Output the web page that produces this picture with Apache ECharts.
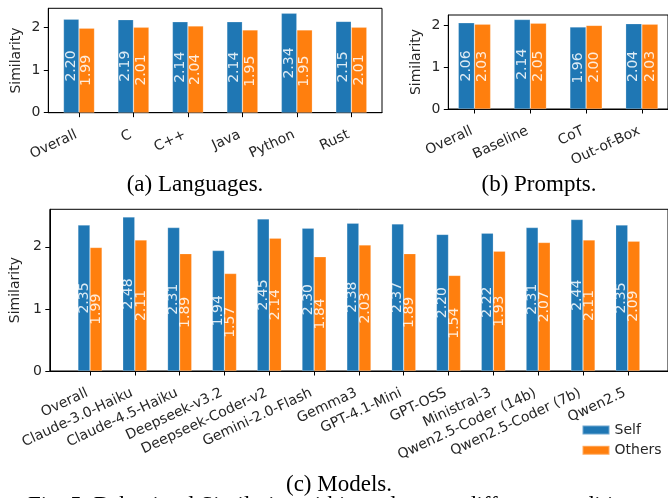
<!DOCTYPE html>
<html>
<head>
<meta charset="utf-8">
<script src="https://cdn.jsdelivr.net/npm/echarts@6/dist/echarts.min.js"></script>
<style>
html,body{margin:0;padding:0;background:#fff;}
#chart{width:668px;height:498px;}
</style>
</head>
<body>
<div id="chart"></div>
<script>
// ---- data ----
const langCats = ['Overall', 'C', 'C++', 'Java', 'Python', 'Rust'];
const langSelf = [2.20, 2.19, 2.14, 2.14, 2.34, 2.15];
const langOthers = [1.99, 2.01, 2.04, 1.95, 1.95, 2.01];

const promptCats = ['Overall', 'Baseline', 'CoT', 'Out-of-Box'];
const promptSelf = [2.06, 2.14, 1.96, 2.04];
const promptOthers = [2.03, 2.05, 2.00, 2.03];

const modelCats = ['Overall', 'Claude-3.0-Haiku', 'Claude-4.5-Haiku', 'Deepseek-v3.2',
  'Deepseek-Coder-v2', 'Gemini-2.0-Flash', 'Gemma3', 'GPT-4.1-Mini', 'GPT-OSS',
  'Ministral-3', 'Qwen2.5-Coder (14b)', 'Qwen2.5-Coder (7b)', 'Qwen2.5'];
const modelSelf = [2.35, 2.48, 2.31, 1.94, 2.45, 2.30, 2.38, 2.37, 2.20, 2.22, 2.31, 2.44, 2.35];
const modelOthers = [1.99, 2.11, 1.89, 1.57, 2.14, 1.84, 2.03, 1.89, 1.54, 1.93, 2.07, 2.11, 2.09];

const yTicks = [0, 1, 2];
const seriesNames = ['Self', 'Others'];
const captions = ['(a) Languages.', '(b) Prompts.', '(c) Models.'];
const figCaption = 'Fig. 5: Behavioral Similarity within and across different conditions.';

// ---- styling ----
const BLUE = '#1f77b4', ORANGE = '#ff7f0e';
const TXT = '#262626';
const FONT = 'DejaVu Sans';
const SERIF = 'Liberation Serif';
const FS = 14;

const panels = [
  { cats: langCats, self: langSelf, others: langOthers, w: 0.285,
    grid: { left: 48.3, top: 8.3, width: 333.7, height: 104.4 } },
  { cats: promptCats, self: promptSelf, others: promptOthers, w: 0.29,
    grid: { left: 448.3, top: 15, width: 222.4, height: 94 } },
  { cats: modelCats, self: modelSelf, others: modelOthers, w: 0.27,
    grid: { left: 48.3, top: 209.3, width: 622.5, height: 161.7 } }
];

const grids = [], xAxes = [], yAxes = [], series = [];
panels.forEach((p, k) => {
  const n = p.cats.length;
  const margin = p.w + 0.05 * (n - 1 + 2 * p.w);
  const ymax = Math.max(...p.self, ...p.others) * 1.05;
  const idx = p.cats.map((_, i) => i);
  grids.push(Object.assign({ show: true, borderColor: '#000', borderWidth: 1, containLabel: false }, p.grid));
  xAxes.push({
    type: 'value', gridIndex: k, min: -margin, max: n - 1 + margin,
    axisLine: { show: true, onZero: false, lineStyle: { color: '#000', width: 1 } },
    axisTick: { show: true, customValues: idx, length: 4.5, lineStyle: { color: '#000', width: 1 } },
    axisLabel: { show: true, customValues: idx, rotate: 25, margin: 20, fontSize: FS,
      padding: [0, 3, 0, 0],
      fontFamily: FONT, color: TXT, formatter: v => p.cats[Math.round(v)] },
    splitLine: { show: false }
  });
  yAxes.push({
    type: 'value', gridIndex: k, min: 0, max: ymax,
    name: 'Similarity', nameLocation: 'middle', nameGap: 25, nameRotate: 90,
    nameTextStyle: { fontSize: FS, fontFamily: FONT, color: TXT },
    axisLine: { show: true, onZero: false, lineStyle: { color: '#000', width: 1 } },
    axisTick: { show: true, customValues: yTicks, length: 4.5, lineStyle: { color: '#000', width: 1 } },
    axisLabel: { show: true, customValues: yTicks, margin: 8, fontSize: FS, fontFamily: FONT, color: TXT },
    splitLine: { show: false }
  });
  [p.self, p.others].forEach((vals, s) => {
    series.push({
      type: 'bar', name: seriesNames[s], xAxisIndex: k, yAxisIndex: k,
      data: vals.map((v, i) => [i, v]),
      barWidth: (p.w * 100) + '%', barGap: '0%',
      itemStyle: { color: s === 0 ? BLUE : ORANGE, borderColor: 'rgba(255,255,255,0.35)', borderWidth: 0.6 },
      label: { show: true, position: 'inside', rotate: 90, fontSize: FS, fontFamily: FONT,
        color: 'rgba(255,255,255,0.85)', formatter: d => d.value[1].toFixed(2) },
      emphasis: { disabled: true },
      animation: false
    });
  });
});

const capPos = [[195, 185], [539, 185], [339, 485]];
const graphics = captions.map((c, i) => ({
  type: 'text', x: capPos[i][0], y: capPos[i][1], silent: true,
  style: { text: c, font: '23px "' + SERIF + '"', fill: '#000', textAlign: 'center', textVerticalAlign: 'middle' }
}));
graphics.push({
  type: 'text', x: 28, y: 506, silent: true,
  style: { text: figCaption, font: '23px "' + SERIF + '"', fill: '#000', textAlign: 'left', textVerticalAlign: 'middle' }
});

const chart = echarts.init(document.getElementById('chart'), null, { renderer: 'canvas' });
chart.setOption({
  animation: false,
  backgroundColor: '#fff',
  grid: grids,
  xAxis: xAxes,
  yAxis: yAxes,
  series: series,
  legend: {
    data: seriesNames, orient: 'vertical', left: 576.5, top: 418,
    itemWidth: 27, itemHeight: 9, itemGap: 6.3, icon: 'rect',
    textStyle: { fontSize: FS, fontFamily: FONT, color: TXT, lineHeight: 14 },
    selectedMode: false
  },
  graphic: graphics
});
</script>
</body>
</html>
